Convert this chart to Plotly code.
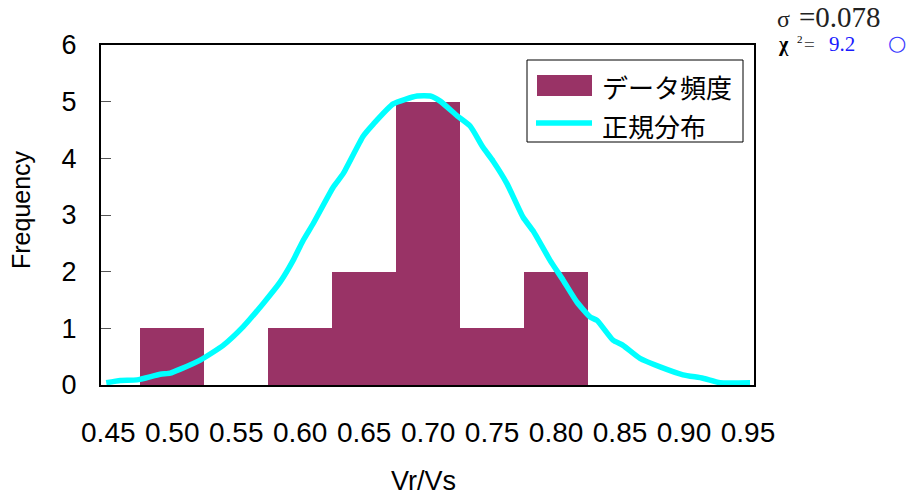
import plotly.graph_objects as go

# Histogram of Vr/Vs ratios (bin centres, counts)
bin_centers = [0.45, 0.50, 0.55, 0.60, 0.65, 0.70, 0.75, 0.80, 0.85, 0.90, 0.95]
bin_counts = [0, 1, 0, 1, 2, 5, 1, 2, 0, 0, 0]
bin_width = 0.05

# Fitted normal curve, sampled points
curve_x = [0.4484, 0.4594, 0.4724, 0.4906, 0.4984, 0.5063, 0.5219, 0.5398, 0.5555,
           0.5711, 0.5844, 0.5945, 0.6023, 0.6102, 0.6258, 0.6336, 0.6492, 0.6570,
           0.6727, 0.6914, 0.7016, 0.7094, 0.7227, 0.7328, 0.7430, 0.7508, 0.7617,
           0.7742, 0.7820, 0.7953, 0.8055, 0.8164, 0.8266, 0.8320, 0.8445, 0.8523,
           0.8656, 0.8813, 0.8992, 0.9148, 0.9281, 0.9516]
curve_y = [0.04, 0.08, 0.09, 0.19, 0.21, 0.28, 0.44, 0.70, 1.03,
           1.44, 1.82, 2.20, 2.55, 2.85, 3.49, 3.73, 4.39, 4.60,
           4.96, 5.10, 5.10, 5.01, 4.75, 4.57, 4.19, 3.95, 3.55,
           2.96, 2.72, 2.20, 1.85, 1.46, 1.20, 1.14, 0.79, 0.70,
           0.47, 0.32, 0.18, 0.12, 0.04, 0.04]

y_ticks = [0, 1, 2, 3, 4, 5, 6]
x_tick_labels = ["0.45", "0.50", "0.55", "0.60", "0.65", "0.70", "0.75",
                 "0.80", "0.85", "0.90", "0.95"]

sigma_value = "=0.078"
chi_value = "9.2"

BAR_COLOR = "#993366"
LINE_COLOR = "#00FFFF"
W, H = 911, 495
ML, MR, MT, MB = 101, 157, 45, 110
PW, PH = W - ML - MR, H - MT - MB


def px(x):
    return (x - ML) / PW


def py(y):
    return (H - MB - y) / PH


fig = go.Figure()
fig.add_trace(go.Bar(
    x=bin_centers, y=bin_counts, width=bin_width,
    marker=dict(color=BAR_COLOR, line=dict(width=0)),
    name="データ頻度", showlegend=False,
))
fig.add_trace(go.Scatter(
    x=curve_x, y=curve_y, mode="lines",
    line=dict(color=LINE_COLOR, width=5.5, shape="spline", smoothing=0.5),
    name="正規分布", showlegend=False,
))

sans = "Liberation Sans, Arial, sans-serif"
cjk = "Noto Sans CJK JP, sans-serif"
serif = "Liberation Serif, Times New Roman, serif"

shapes = [
    # legend frame
    dict(type="rect", xref="paper", yref="paper",
         x0=px(527), x1=px(743), y0=py(142), y1=py(60),
         line=dict(color="black", width=1), fillcolor="white", layer="above"),
    # bar swatch
    dict(type="rect", xref="paper", yref="paper",
         x0=px(537), x1=px(592), y0=py(96), y1=py(75),
         line=dict(width=0), fillcolor=BAR_COLOR, layer="above"),
    # line swatch
    dict(type="line", xref="paper", yref="paper",
         x0=px(536), x1=px(592), y0=py(123), y1=py(123),
         line=dict(color=LINE_COLOR, width=5.5), layer="above"),
]


def note(text, x, y, size, color="black", family=sans, xanchor="left", **kw):
    return dict(text=text, xref="paper", yref="paper", x=px(x), y=py(y),
                xanchor=xanchor, yanchor="middle", showarrow=False,
                font=dict(family=family, size=size, color=color), **kw)


annotations = [
    note("データ頻度", 600, 86, 26, family=cjk),
    note("正規分布", 600, 125, 26, family=cjk),
    note("Frequency", 21, 210, 25, xanchor="center", textangle=-90),
    note("Vr/Vs", 423, 481, 27, xanchor="center"),
    note("σ", 775, 19, 24, color="#222222", family=serif),
    note(sigma_value, 797, 17, 29, color="#222222", family=serif),
    note("<b>χ</b>", 776, 44, 20, family=serif),
    note("2", 795, 39, 11, family=serif),
    note("=", 802, 44, 19, color="#555555", family=serif),
    note(chi_value, 827, 44, 21, color="#1a1aff", family=serif),
    note("○", 897, 43, 21, color="#3a3aff", family="DejaVu Sans, sans-serif",
         xanchor="center"),
]

fig.update_layout(
    width=W, height=H,
    margin=dict(l=ML, r=MR, t=MT, b=MB, pad=0),
    paper_bgcolor="white", plot_bgcolor="white",
    bargap=0,
    shapes=shapes, annotations=annotations,
    xaxis=dict(
        range=[0.4443, 0.9547], tickmode="array",
        tickvals=bin_centers, ticktext=x_tick_labels,
        ticks="", showgrid=False, zeroline=False,
        showline=True, linecolor="black", linewidth=2, mirror=True,
        tickfont=dict(family=sans, size=28, color="black"), ticklabelstandoff=21,
    ),
    yaxis=dict(
        range=[0, 6], tickmode="array", tickvals=y_ticks,
        ticks="inside", ticklen=10, tickwidth=1, tickcolor="#555555",
        showgrid=False, zeroline=False,
        showline=True, linecolor="black", linewidth=2, mirror=True,
        tickfont=dict(family=sans, size=27, color="black"),
        ticklabelstandoff=17,
    ),
)

fig.write_html("out.html")
